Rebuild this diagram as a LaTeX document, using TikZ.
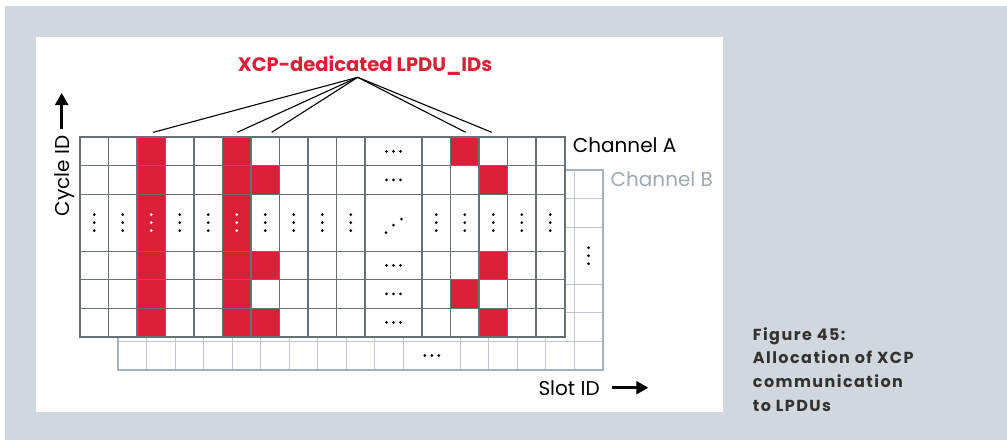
\documentclass[tikz,border=0pt]{standalone}
\usepackage{fontspec}
\setmainfont{Poppins}
\newfontfamily\captfont[LetterSpace=9]{Poppins}
\usetikzlibrary{arrows.meta}
\definecolor{bggray}{RGB}{208,215,222}
\definecolor{vred}{RGB}{217,32,56}
\definecolor{gridA}{RGB}{105,113,119}
\definecolor{gridB}{RGB}{190,197,204}
\definecolor{gridBo}{RGB}{168,176,184}
\definecolor{txtB}{RGB}{160,168,176}
\definecolor{capt}{RGB}{50,50,50}
\begin{document}
\begin{tikzpicture}[x=1pt,y=-1pt,
  lbl/.style={font=\fontsize{20}{24}\selectfont, inner sep=0pt},
  captline/.style={font=\captfont\bfseries\fontsize{16}{18}\selectfont, text=capt, inner sep=0pt, anchor=base west},
  axarrow/.style={line width=2.5pt, -{Triangle[length=12pt,width=13pt]}},
  pointer/.style={line width=1.1pt, black},
  dotb/.style={fill=black},
  dotw/.style={fill=white},
  redcell/.style={fill=vred}]
\useasboundingbox (0,0) rectangle (1007,440);
\fill[white] (0,0) rectangle (1007,440);
\fill[bggray] (5,6) rectangle (1007,440);
\fill[white] (36,36.7) rectangle (722.7,411.7);

% ---------- Channel B (behind) ----------
\begin{scope}[shift={(118.3,170.2)}, x=28.5pt, y=-28.5pt]
  \draw[gridB, line width=1.1pt]
    foreach \c in {1,2,3,4,5,6,7,8,9,10,12,13,14,15,16} {(\c,0) -- (\c,7)}
    foreach \r in {1,2,4,5,6} {(0,\r) -- (17,\r)};
  \draw[gridBo, line width=2pt] (0,0) rectangle (17,7);
  \foreach \d in {-8,0,8} \fill (16.5,3) ++(0pt,\d pt) circle (1.5pt);
  \foreach \d in {-7,0,7} \fill (11,6.5) ++(\d pt,0pt) circle (1.5pt);
\end{scope}

% ---------- Channel A ----------
\begin{scope}[shift={(80,137.2)}, x=28.5pt, y=-28.5pt]
  \fill[white] (0,0) rectangle (17,7);
  % red cells
  \fill[redcell] (2,0) rectangle (3,7);
  \fill[redcell] (5,0) rectangle (6,7);
  \foreach \r in {1,4,6} \fill[redcell] (6,\r) rectangle (7,\r+1);
  \foreach \r in {0,5} \fill[redcell] (13,\r) rectangle (14,\r+1);
  \foreach \r in {1,4,6} \fill[redcell] (14,\r) rectangle (15,\r+1);
  % grid
  \draw[gridA, line width=1.3pt]
    foreach \c in {1,2,3,4,5,6,7,8,9,10,12,13,14,15,16} {(\c,0) -- (\c,7)}
    foreach \r in {1,2,4,5,6} {(0,\r) -- (17,\r)};
  \draw[gridA, line width=2pt] (0,0) rectangle (17,7);
  % vertical dots
  \foreach \c in {0,1,3,4,6,7,8,9,12,13,14,15,16}
    \foreach \d in {-8,0,8} \fill[dotb] (\c+0.5,3) ++(0pt,\d pt) circle (1.5pt);
  \foreach \c in {2,5}
    \foreach \d in {-8,0,8} \fill[dotw] (\c+0.5,3) ++(0pt,\d pt) circle (1.5pt);
  % horizontal dots
  \foreach \r in {0.5,1.5,4.5,5.5,6.5}
    \foreach \d in {-7,0,7} \fill[dotb] (11,\r) ++(\d pt,0pt) circle (1.5pt);
  % diagonal dots
  \fill[dotb] (11,3) ++(-7.5pt,-10pt) circle (1.5pt);
  \fill[dotb] (11,3) ++(0pt,-2.5pt) circle (1.5pt);
  \fill[dotb] (11,3) ++(8pt,3.7pt) circle (1.5pt);
\end{scope}

% ---------- title and pointers ----------
\node[font=\bfseries\fontsize{19.5}{22}\selectfont, text=vred, inner sep=0pt, anchor=base] (title) at (365,71) {XCP-dedicated LPDU\_IDs};
\coordinate (hub) at (357.7,77.3);
\coordinate (p1) at (153.3,132.3);
\coordinate (p2) at (237.3,132.3);
\coordinate (p3) at (271.7,132.3);
\coordinate (p4) at (465.7,132.3);
\coordinate (p5) at (491.7,132.3);
\foreach \p in {p1,p2,p3,p4,p5} \draw[pointer] (hub) -- (\p);

% ---------- labels ----------
\node[lbl, anchor=base west] (chA) at (572.7,152.7) {Channel A};
\node[lbl, anchor=base west, text=txtB] (chB) at (610.5,186) {Channel B};
\node[lbl, anchor=base west] (slot) at (538.3,395) {Slot ID};
\coordinate (sa) at (611.7,387.7);
\coordinate (sb) at (648.3,387.7);
\draw[axarrow] (sa) -- (sb);
\node[lbl, rotate=90, anchor=base] (cyc) at (69.5,176) {Cycle ID};
\coordinate (ca) at (61.7,128.5);
\coordinate (cb) at (61.7,93);
\draw[axarrow] (ca) -- (cb);

% ---------- caption ----------
\node[captline] (cap1) at (752.7,340) {Figure 45:};
\node[captline] (cap2) at (752.7,363.6) {Allocation of XCP};
\node[captline] (cap3) at (752.7,387.3) {communication};
\node[captline] (cap4) at (752.7,411) {to LPDUs};
\end{tikzpicture}
\end{document}
